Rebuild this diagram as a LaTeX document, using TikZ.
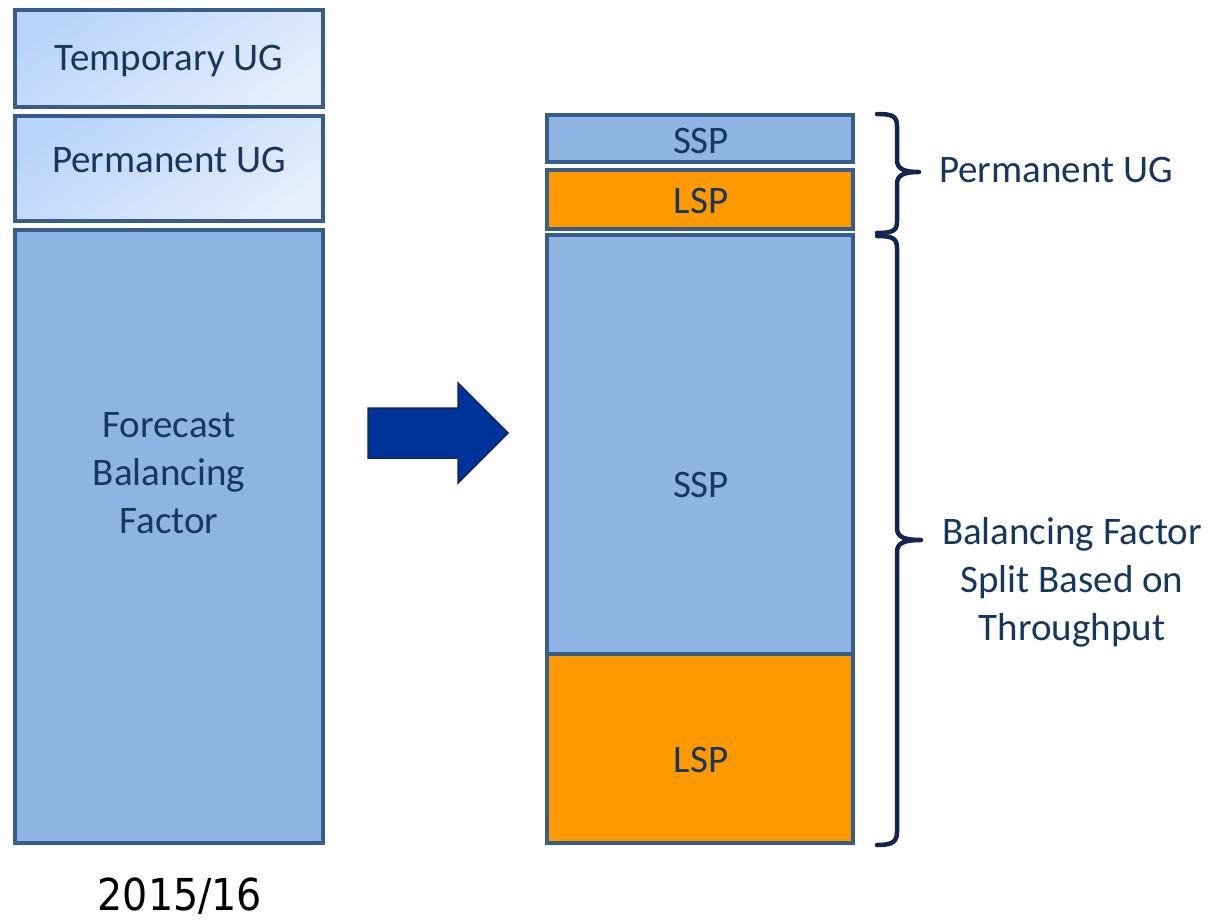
\documentclass[tikz,border=0pt]{standalone}
\usepackage{fontspec}
\setmainfont{Carlito}
\newfontfamily\yearfont{DejaVu Sans Condensed}
\definecolor{txtnavy}{RGB}{23,55,94}
\definecolor{bordblue}{RGB}{56,93,138}
\definecolor{boxblue}{RGB}{142,180,227}
\definecolor{boxorange}{RGB}{255,153,0}
\definecolor{ugA}{RGB}{186,212,249}
\definecolor{ugB}{RGB}{228,238,252}
\definecolor{arrowblue}{RGB}{0,51,153}
\definecolor{arrowedge}{RGB}{16,38,90}
\definecolor{bracenavy}{RGB}{20,36,80}
\tikzset{
  block/.style={draw=bordblue, line width=4pt, rectangle, inner sep=0pt, outer sep=0pt},
  ugbox/.style={block, top color=ugA, bottom color=ugB, shading angle=35},
  bluebox/.style={block, fill=boxblue},
  orangebox/.style={block, fill=boxorange},
  lbl/.style={text=txtnavy, font=\fontsize{39}{47.6}\selectfont, align=center, inner sep=0pt, anchor=base},
  bracepath/.style={draw=bracenavy, line width=4.5pt, line cap=round, line join=round},
}
\begin{document}
\begin{tikzpicture}[x=1pt,y=-1pt]
\useasboundingbox (0,0) rectangle (1211,919);
% left column
\node[ugbox, minimum width=308pt, minimum height=97pt] (tug) at (169,58.5) {};
\node[ugbox, minimum width=308pt, minimum height=105pt] (pug) at (169,168.5) {};
\node[bluebox, minimum width=308pt, minimum height=613pt] (fbf) at (169,536.5) {};
\node[lbl] (tugt) at (169,70) {Temporary UG};
\node[lbl] (pugt) at (169,172) {Permanent UG};
\node[lbl] (fbft) at (169,533) {Forecast\\Balancing\\Factor};
\node[text=black, font=\yearfont\fontsize{44}{52}\selectfont, inner sep=0pt, anchor=base] (year) at (180,910) {2015/16};
% arrow
\draw[fill=arrowblue, draw=arrowedge, line width=1.5pt, line join=miter]
  (368,408) -- (458,408) -- (458,383) -- (508,433) -- (458,483) -- (458,458) -- (368,458) -- cycle;
% right column
\node[bluebox, minimum width=306pt, minimum height=47pt] (sspa) at (700,138.5) {};
\node[orangebox, minimum width=306pt, minimum height=59pt] (lspa) at (700,199.5) {};
\node[bluebox, minimum width=306pt, minimum height=419pt] (sspb) at (700,444.5) {};
\node[orangebox, minimum width=306pt, minimum height=189pt] (lspb) at (700,748.5) {};
\node[lbl] (sspat) at (701,153) {SSP};
\node[lbl] (lspat) at (701,213) {LSP};
\node[lbl] (sspbt) at (701,497) {SSP};
\node[lbl] (lspbt) at (701,772) {LSP};
% braces
\draw[bracepath] (877,114) .. controls (892,114) and (897,116) .. (897,126) -- (897,160)
  .. controls (897,169) and (904,172) .. (919,172)
  .. controls (904,172) and (897,175) .. (897,184) -- (897,222)
  .. controls (897,231) and (892,233) .. (877,233);
\draw[bracepath] (877,236) .. controls (892,236) and (897,238) .. (897,248) -- (897,528)
  .. controls (897,537) and (904,540) .. (921,540)
  .. controls (904,540) and (897,543) .. (897,552) -- (897,832)
  .. controls (897,842) and (892,845) .. (877,845);
\node[lbl] (pugr) at (1056,182) {Permanent UG};
\node[lbl] (bfr) at (1072,640) {Balancing Factor\\Split Based on\\Throughput};
\end{tikzpicture}
\end{document}
